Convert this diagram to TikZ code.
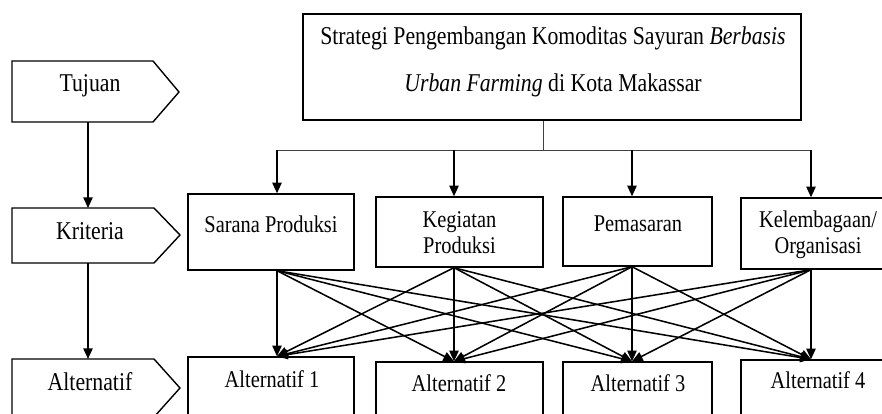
\documentclass[tikz,border=0pt]{standalone}
\usepackage{fontspec}
\setmainfont{Liberation Serif}[FakeStretch=0.85]
\usetikzlibrary{arrows.meta,fit}
\begin{document}
\begin{tikzpicture}[x=0.75pt,y=-0.75pt,
  box/.style={draw, line width=1.05pt, inner sep=0pt},
  lbl/.style={anchor=base, inner sep=0pt, font=\fontsize{18}{21}\selectfont},
  biglbl/.style={lbl, font=\fontsize{19.2}{22}\selectfont},
  arr/.style={line width=1.15pt, -{Triangle[length=8pt,width=7pt]}},
  stem/.style={line width=0.7pt, draw=black!75}]
\useasboundingbox (0,0) rectangle (882,414);
\clip (0,0) rectangle (882,414);
\fill[white] (0,0) rectangle (882,414);
% column coordinates
\coordinate (c1) at (277,0);
\coordinate (c2) at (454,0);
\coordinate (c3) at (632,0);
\coordinate (c4) at (811,0);
% left level pentagons
\draw[line width=1.05pt] (12,61) -- (153,61) -- (179,92) -- (153,122) -- (12,122) -- cycle;
\draw[line width=1.05pt] (12,208) -- (154,208) -- (180,235) -- (154,263) -- (12,263) -- cycle;
\draw[line width=1.05pt] (12,359) -- (154,359) -- (180,388) -- (154,417) -- (12,417) -- cycle;
\node[biglbl] (tuj) at (90,91) {Tujuan};
\node[biglbl] (kri) at (90,239) {Kriteria};
\node[biglbl] (alt) at (90,390) {Alternatif};
\coordinate (tujb) at (88,122);
\coordinate (krit) at (88,208);
\coordinate (krib) at (88,263);
\coordinate (altt) at (88,359);
\draw[arr] (tujb) -- (krit);
\draw[arr] (krib) -- (altt);
% boxes
\node[box, fit={(303,14) (801,120)}] (top) {};
\node[box, fit={(188,194) (354,270)}] (sar) {};
\node[box, fit={(376,197) (543,267)}] (keg) {};
\node[box, fit={(563,197) (712,266)}] (pem) {};
\node[box, fit={(741,198) (895,269)}] (kel) {};
\node[box, fit={(188,357) (354,440)}] (a1) {};
\node[box, fit={(376,362) (543,440)}] (a2) {};
\node[box, fit={(563,362) (712,440)}] (a3) {};
\node[box, fit={(741,360) (895,440)}] (a4) {};
% texts
\node[biglbl] (t1) at (553,44) {Strategi Pengembangan Komoditas Sayuran \textit{Berbasis}};
\node[biglbl] (t2) at (553,91) {\textit{Urban Farming} di Kota Makassar};
\node[lbl] (sart) at (271,232) {Sarana Produksi};
\node[lbl] (kegt1) at (459.5,227) {Kegiatan};
\node[lbl] (kegt2) at (459.5,253) {Produksi};
\node[lbl] (pemt) at (638,231) {Pemasaran};
\node[lbl] (kelt1) at (818,227) {Kelembagaan/};
\node[lbl] (kelt2) at (818,253) {Organisasi};
\node[lbl] (a1t) at (272,387) {Alternatif 1};
\node[lbl] (a2t) at (459,391) {Alternatif 2};
\node[lbl] (a3t) at (638,391) {Alternatif 3};
\node[lbl] (a4t) at (818,388) {Alternatif 4};
% tree connectors
\coordinate (stemb) at (543,150);
\coordinate (h1) at (277,150);
\coordinate (h4) at (811,150);
\draw[stem] (top.south -| stemb) -- (stemb);
\draw[stem] (h1) -- (h4);
\foreach \b/\c in {sar/c1,keg/c2,pem/c3,kel/c4}
  \draw[arr] (h1 -| \c) -- (\b.north -| \c);
% cross arrows
\foreach \s/\sc in {sar/c1,keg/c2,pem/c3,kel/c4}
  \foreach \t/\tc in {a1/c1,a2/c2,a3/c3,a4/c4}
    \draw[arr] (\s.south -| \sc) -- (\t.north -| \tc);
\end{tikzpicture}
\end{document}
